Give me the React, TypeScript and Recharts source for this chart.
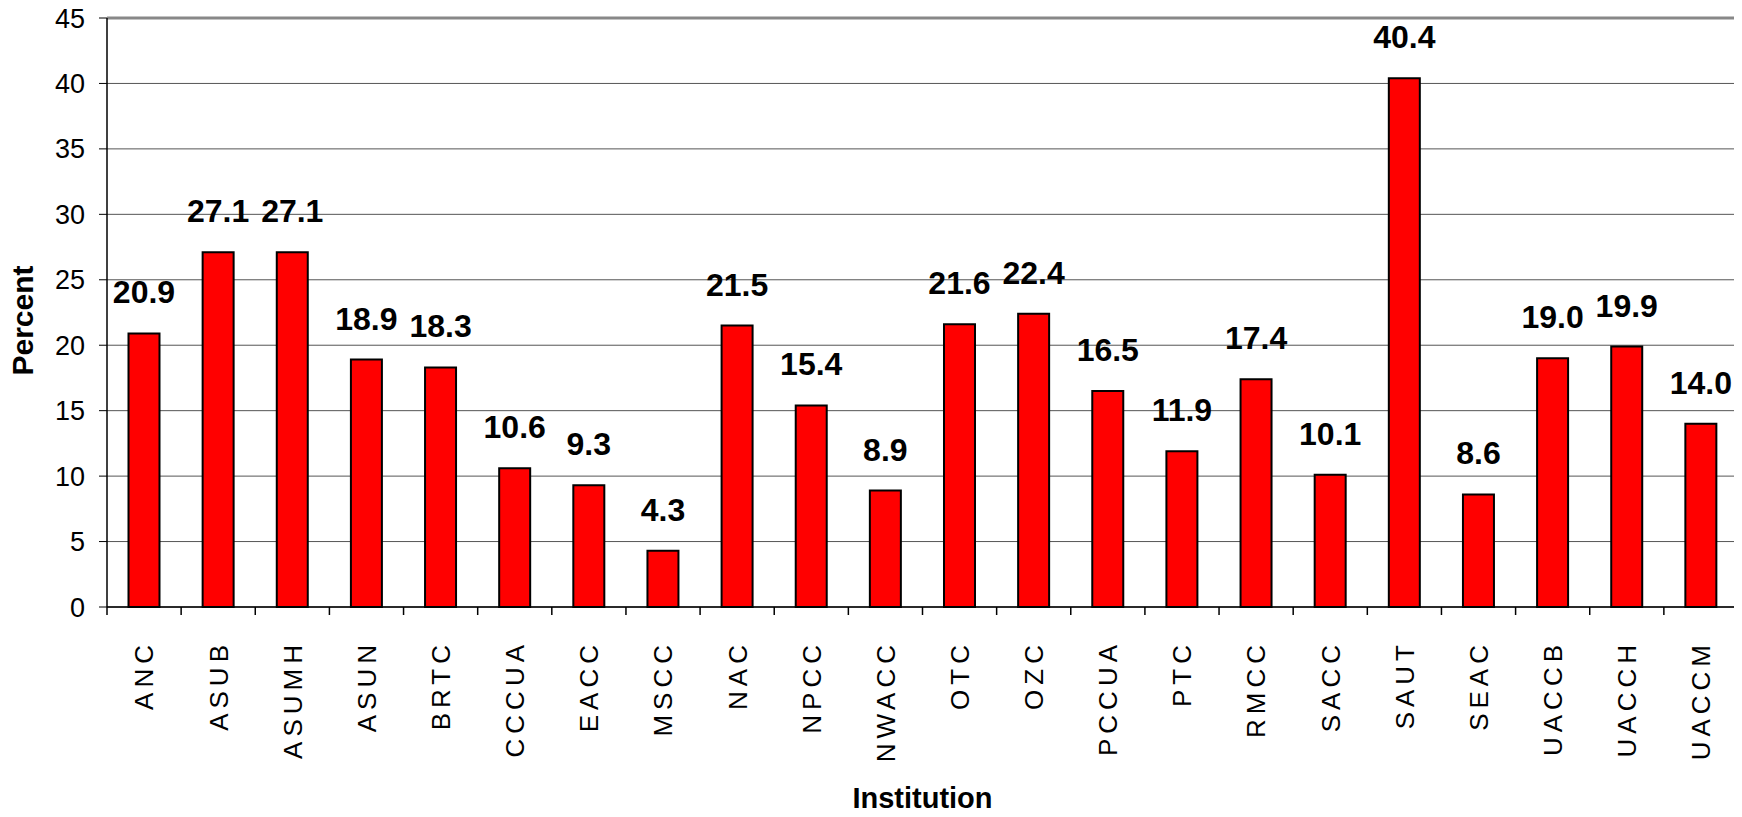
import { BarChart, Bar, XAxis, YAxis, CartesianGrid, LabelList, Label, ReferenceLine } from 'recharts';

const institutions = [
  'ANC', 'ASUB', 'ASUMH', 'ASUN', 'BRTC', 'CCCUA', 'EACC', 'MSCC', 'NAC', 'NPCC', 'NWACC',
  'OTC', 'OZC', 'PCCUA', 'PTC', 'RMCC', 'SACC', 'SAUT', 'SEAC', 'UACCB', 'UACCH', 'UACCM',
];

const percents = [
  20.9, 27.1, 27.1, 18.9, 18.3, 10.6, 9.3, 4.3, 21.5, 15.4, 8.9,
  21.6, 22.4, 16.5, 11.9, 17.4, 10.1, 40.4, 8.6, 19.0, 19.9, 14.0,
];

const yTicks = [0, 5, 10, 15, 20, 25, 30, 35, 40, 45];

const data = institutions.map((name, i) => ({ name, percent: percents[i] }));

const FONT = '"Liberation Sans", Arial, Helvetica, sans-serif';

function CategoryTick(props: any) {
  const { x, y, payload, index, width, visibleTicksCount } = props;
  const band = width / visibleTicksCount;
  const left = x - band / 2;
  const right = x + band / 2;
  return (
    <g>
      <line x1={left} x2={left} y1={y - 10} y2={y - 2} stroke="#000" strokeWidth={1.5} />
      {index === visibleTicksCount - 1 && (
        <line x1={right} x2={right} y1={y - 10} y2={y - 2} stroke="#000" strokeWidth={1.5} />
      )}
      <g transform={`translate(${x},${y})`}>
        <text
          transform="rotate(-90)"
          x={-23}
          y={0}
          dy="0.36em"
          textAnchor="end"
          fontFamily={FONT}
          fontSize={26}
          letterSpacing={5}
          fill="#000"
        >
          {payload.value}
        </text>
      </g>
    </g>
  );
}

function ValueLabel(props: any) {
  const { x, y, width, value } = props;
  return (
    <text
      x={x + width / 2}
      y={y - 30}
      textAnchor="middle"
      fontFamily={FONT}
      fontSize={32}
      fontWeight="bold"
      fill="#000"
    >
      {Number(value).toFixed(1)}
    </text>
  );
}

export default function App() {
  return (
    <div style={{ width: 1734, height: 809, background: '#fff' }}>
      <BarChart
        width={1734}
        height={809}
        data={data}
        margin={{ top: 10, right: 0, left: 0, bottom: 0 }}
        barCategoryGap="29%"
      >
        <CartesianGrid vertical={false} stroke="#555" strokeWidth={1} />

        <XAxis
          dataKey="name"
          height={210}
          interval={0}
          tickLine={false}
          tickSize={8}
          tickMargin={2}
          axisLine={{ stroke: '#000', strokeWidth: 1.5 }}
          tick={<CategoryTick />}
        >
          <Label
            content={(p: any) => {
              const vb = p.viewBox;
              return (
                <text
                  x={vb.x + vb.width / 2}
                  y={vb.y + 201}
                  textAnchor="middle"
                  fontFamily={FONT}
                  fontSize={29}
                  fontWeight="bold"
                  fill="#000"
                >
                  Institution
                </text>
              );
            }}
          />
        </XAxis>

        <YAxis
          width={99}
          domain={[0, 45]}
          ticks={yTicks}
          interval={0}
          tickSize={8}
          tickMargin={14}
          axisLine={{ stroke: '#000', strokeWidth: 1.5 }}
          tickLine={{ stroke: '#000', strokeWidth: 1 }}
          tick={{ fontFamily: FONT, fontSize: 27, fill: '#000' }}
        >
          <Label
            content={(p: any) => {
              const vb = p.viewBox;
              const cx = 25;
              const cy = vb.y + vb.height / 2 + 8;
              return (
                <text
                  x={cx}
                  y={cy}
                  transform={`rotate(-90 ${cx} ${cy})`}
                  textAnchor="middle"
                  fontFamily={FONT}
                  fontSize={30}
                  fontWeight="bold"
                  fill="#000"
                >
                  Percent
                </text>
              );
            }}
          />
        </YAxis>

        <YAxis
          yAxisId="frame"
          orientation="right"
          width={4}
          domain={[0, 45]}
          tick={false}
          tickLine={false}
          axisLine={{ stroke: '#888', strokeWidth: 3 }}
        />

        <ReferenceLine y={45} stroke="#888" strokeWidth={3} />

        <Bar
          dataKey="percent"
          fill="#FF0000"
          stroke="#000"
          strokeWidth={2}
          isAnimationActive={false}
        >
          <LabelList dataKey="percent" content={<ValueLabel />} />
        </Bar>
      </BarChart>
    </div>
  );
}
